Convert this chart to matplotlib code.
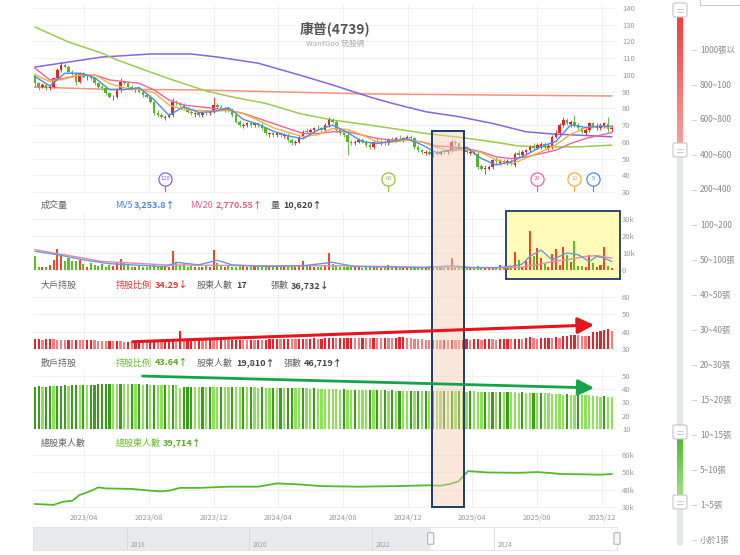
import numpy as np
import pandas as pd
import matplotlib
matplotlib.use('Agg')
import matplotlib.pyplot as plt
import matplotlib.transforms as mtransforms
from matplotlib.patches import Rectangle, FancyBboxPatch, FancyArrowPatch
from matplotlib.colors import LinearSegmentedColormap

plt.rcParams['font.family'] = ['Noto Sans CJK TC', 'DejaVu Sans']

W, H = 740, 555

# weekly candles, first week ends 2022-12-30
start = pd.Timestamp('2022-12-30')

open_ = [100, 95, 93, 94, 92, 93, 98, 103, 106, 105,
         102, 101, 96, 101, 98.5, 99, 98, 95, 93, 92,
         89, 86.5, 87, 91, 96, 95, 93, 91.5, 92, 90,
         88, 87, 84, 77, 76, 74.5, 75, 76, 84, 83,
         82, 80, 78, 76.5, 77, 76, 77.5, 77, 78, 82,
         81, 79.5, 80, 79, 76, 72, 69.5, 70, 71, 70,
         71, 70, 68, 64.5, 65, 64, 65, 63.5, 64, 61,
         59, 60, 63, 66.5, 66, 67, 68.5, 68, 67, 70,
         73, 72, 67, 65, 64, 60, 59, 60, 61, 60,
         58, 57, 60.5, 59.5, 60, 59, 61.5, 61, 62.5, 61.5,
         62, 63, 62, 57, 55, 53.5, 54, 52.5, 53.5, 53,
         54.5, 54, 55, 60, 59, 56, 55, 53.5, 54, 53,
         45.5, 43.5, 44, 45, 49.5, 47.5, 48.5, 47.5, 48.5, 46,
         53.5, 52, 54, 55, 57.5, 56.5, 57.5, 58.5, 56.5, 57,
         63, 65, 70, 73, 70.5, 72, 70, 68, 65.5, 67,
         71, 68.5, 68.5, 69, 70.5, 67.5]
close = [95, 93, 94, 92, 93, 98, 103, 106, 105, 102,
         101, 96, 101, 99, 99, 98, 95, 93, 92, 89,
         87, 87, 91, 96, 95, 93, 92, 92, 90, 88,
         87, 84, 77, 76, 75, 75, 76, 84, 83, 82,
         80, 78, 77, 77, 76, 77, 77, 78, 82, 81,
         80, 80, 79, 76, 72, 70, 70, 71, 70, 71,
         70, 68, 65, 65, 64, 65, 64, 64, 61, 59,
         60, 63, 66, 66, 67, 68, 68, 67, 70, 73,
         72, 67, 65, 64, 60, 59, 60, 61, 60, 58,
         57, 60, 60, 60, 59, 61, 61, 62, 62, 62,
         63, 62, 57, 55, 54, 54, 53, 53, 53, 54,
         54, 55, 60, 59, 56, 55, 54, 54, 53, 45,
         44, 44.5, 45, 49, 48.5, 48.5, 48, 48.5, 47, 53,
         52, 54, 55, 57, 56.5, 58, 58.5, 57, 57.5, 63,
         65, 70, 73, 71, 72, 70, 68, 66, 67, 71,
         69, 69.5, 70, 71, 67.5, 68.5]
high = [101, 96, 95, 95, 94, 99, 104, 108, 107, 106,
        103, 102, 102, 102, 100, 100, 99, 96, 94, 93,
        90, 88, 92, 98, 97, 96, 94, 93, 93, 91,
        89, 88, 85, 79, 77, 76, 77, 86, 85, 84,
        83, 81, 79, 78, 78, 78, 79, 79, 87, 83,
        82, 81, 81, 80, 77, 73, 71, 72, 72, 72,
        72, 71, 69, 66, 66, 66, 66, 65, 65, 62,
        61, 64, 67, 68, 68, 69, 70, 69, 71, 75,
        74, 73, 68, 66, 65, 61, 61, 62, 62, 61,
        59, 61, 62, 61, 61, 62, 63, 63, 64, 63,
        64, 64, 63, 58, 56, 55, 55, 54, 55, 55,
        56, 56, 61, 61, 60, 57, 56, 55, 55, 54,
        47, 46, 46, 50, 51, 50, 50, 50, 50, 54,
        55, 55, 56, 58, 59, 59, 60, 60, 59, 64,
        67, 71, 75, 74, 73, 76, 71, 69, 68, 72,
        72, 71, 71, 72, 75, 70]
low = [93, 91, 92, 91, 91, 92, 97, 102, 104, 101,
       100, 94, 95, 98, 97, 97, 94, 92, 91, 88,
       86, 85, 86, 90, 94, 92, 91, 90, 89, 87,
       86, 83, 76, 75, 74, 73, 74, 75, 82, 81,
       79, 77, 76, 75, 75, 75, 76, 76, 77, 80,
       79, 78, 78, 75, 71, 69, 68, 69, 69, 69,
       69, 67, 64, 63, 63, 63, 63, 62, 60, 58,
       58, 59, 62, 65, 65, 66, 67, 66, 66, 69,
       71, 66, 64, 63, 52, 58, 58, 59, 59, 57,
       56, 56, 59, 58, 58, 58, 60, 60, 61, 60,
       61, 61, 56, 54, 53, 52, 52, 51, 52, 52,
       53, 53, 54, 58, 55, 54, 53, 52, 52, 44,
       43, 41, 43, 44, 47, 46, 47, 46, 46, 45,
       51, 51, 53, 54, 56, 56, 56, 56, 55, 56,
       62, 64, 69, 70, 69, 69, 67, 65, 64, 66,
       68, 67, 67, 68, 66, 66]

# moving averages of price, sampled every 4 weeks
ma_idx = list(range(0, 153, 4)) + [155]
ma5 = [99, 93.4, 101, 101, 98.4, 91.2, 91.2, 92.4, 85.2, 75.8, 81, 77.6, 78, 80.4, 73.4, 70.4,
       66.4, 63.6, 61.8, 67, 70, 65.6, 60, 59, 60.2, 62, 58.2, 53.4, 55.2, 56.8, 50, 46.2,
       48.1, 52.2, 57, 60.2, 70.2, 68.6, 69.3, 69.3]
ma10 = [100, 96, 97.6, 99.7, 100.2, 94.9, 92.3, 91.2, 89.4, 82, 79.2, 78.8, 78.4, 78.7, 76.8, 72.9,
        68.4, 65.7, 63.1, 64.2, 68, 67.4, 64.1, 59.9, 59.7, 61, 59.9, 56.6, 54.5, 55.3, 53.5, 49.2,
        46.8, 50.3, 54, 58.2, 64.5, 68.5, 69.4, 68.8]
ma20 = [104, 97, 98, 100, 100, 97, 96, 95, 91, 85, 82, 81, 80, 79, 77, 74,
        71, 68, 65, 65, 66, 66, 64, 62, 61, 61, 60, 57.5, 57, 56, 54, 51,
        50, 51, 53, 55, 59, 62, 64, 65.5]
ma60_idx = [0, 9, 18, 22, 31, 37, 46, 53, 62, 71, 80, 90, 96, 105, 114, 123, 130, 136, 146, 155]
ma60 = [128.6, 119.7, 113, 109, 101.7, 97, 90.4, 86.8, 83, 77, 73, 70, 68, 65, 62.7, 60, 57.5, 57, 57, 58]
ma120_idx = [0, 9, 18, 31, 42, 49, 60, 71, 80, 90, 96, 105, 114, 123, 132, 139, 146, 155]
ma120 = [104.7, 107.7, 110.7, 112.5, 112.5, 110.7, 107, 100, 94, 86.8, 83, 78, 75, 71, 66, 64.7, 64, 63]
ma240_idx = [0, 18, 44, 90, 155]
ma240 = [92.7, 91.5, 91, 88.6, 87.4]

flag_idx = [35, 95, 135, 145, 150]
flag_txt = ['120', '60', '20', '10', '5']
flag_col = ['#8a63e0', '#8cc63e', '#e8679a', '#f5b041', '#4a8fe2']

# volume (k)
volume = [8.5, 2, 1.5, 1.5, 3, 6, 12.5, 9, 5, 7,
          5.5, 5, 6, 3.5, 2, 4, 3, 2.5, 3.5, 2,
          3, 2.5, 4, 6.5, 4, 3, 2, 2, 2.5, 2,
          2, 2.5, 3.5, 2.5, 2, 2, 2, 11, 4, 3,
          3.5, 2, 2.5, 2, 2, 2, 2.5, 2, 12, 4,
          3, 2, 2.5, 2, 2, 2.5, 3, 2, 2, 2.5,
          2, 2, 2, 2, 1.5, 2, 2, 2, 1.5, 2,
          1.5, 3, 5.5, 3, 2.5, 2, 2, 2, 3, 10,
          3.5, 2.5, 2, 1.5, 2, 1.5, 1.5, 1.5, 1, 1.5,
          1.5, 2, 1.5, 1, 1.5, 3, 1.5, 1.5, 1, 1.5,
          1, 2, 1.5, 1.5, 1, 1, 1, 1.5, 1, 1,
          1, 1.5, 7, 1.5, 1, 1, 1, 1, 1, 2.5,
          1.5, 1, 1, 1.5, 1, 3, 1, 1, 1.5, 10.5,
          6, 1.8, 5, 23, 8.4, 13, 7, 3.7, 1.6, 9.6,
          12.3, 3, 13.8, 9, 4.5, 17, 2.5, 2.1, 1.8, 9,
          4, 1.8, 3, 13.3, 2.5, 1.2]
vma5_idx = [0, 6, 13, 20, 26, 35, 38, 44, 49, 53, 62, 72, 80, 86, 96, 104, 112, 118, 125,
            129, 131, 133, 136, 139, 141, 143, 146, 149, 151, 153, 155]
vma5 = [11, 9, 6, 3.7, 3, 2, 4.5, 3, 5.7, 3, 2, 2.5, 4.5, 2, 1.8, 1.3, 2.5, 1.3, 1.5,
        2.5, 3.5, 8, 11.7, 6, 8, 10, 9, 5, 8, 7, 5]
vma20_idx = [0, 5, 13, 18, 35, 60, 80, 100, 125, 130, 135, 139, 143, 148, 151, 155]
vma20 = [12, 10, 7, 5, 3, 2.5, 2.5, 1.8, 1.3, 1.5, 3, 5, 6, 8, 8.4, 7]

# 大戶 / 散戶 holding ratio (%)
big = [35.5, 35.6, 35.4, 35.5, 35.6, 35.5, 35.3, 35.2, 35.0, 35.1,
       35.0, 35.2, 35.0, 34.9, 35.0, 35.1, 35.0, 34.8, 34.6, 34.5,
       34.5, 34.4, 34.6, 34.5, 34.3, 34.3, 34.2, 34.3, 34.4, 34.3,
       34.2, 34.3, 34.4, 34.3, 34.2, 34.3, 34.4, 34.5, 34.3, 40.5,
       34.8, 35.0, 35.1, 35.0, 35.2, 35.1, 35.0, 35.2, 35.1, 35.0,
       35.2, 35.1, 35.0, 35.1, 35.2, 35.3, 35.1, 35.0, 35.2, 35.1,
       35.3, 35.2, 35.4, 35.6, 35.8, 35.9, 35.7, 35.8, 36.0, 35.9,
       35.8, 35.9, 36.0, 35.8, 35.9, 36.1, 35.9, 36.0, 36.1, 36.2,
       36.3, 36.1, 36.2, 36.4, 36.5, 36.6, 36.5, 36.4, 36.6, 36.5,
       36.3, 36.4, 36.3, 36.2, 36.5, 36.4, 36.3, 36.6, 36.7, 36.9,
       36.6, 36.3, 36.0, 35.7, 35.5, 35.4, 35.3, 35.4, 35.3, 35.2,
       35.4, 35.3, 35.4, 35.3, 35.2, 35.4, 35.5, 35.4, 35.5, 35.6,
       35.4, 35.5, 35.6, 35.5, 35.4, 35.6, 35.7, 35.8, 35.7, 35.9,
       36.0, 35.9, 36.1, 37.0, 36.2, 36.0, 36.3, 36.4, 36.6, 36.5,
       36.7, 36.6, 37.2, 37.6, 37.8, 37.9, 37.8, 37.6, 37.4, 37.5,
       39.6, 39.9, 40.1, 40.7, 41.3, 40.4]
retail = [42.0, 42.1, 41.9, 42.0, 42.2, 42.1, 42.3, 42.6, 42.8, 42.7,
          42.9, 43.0, 42.8, 43.1, 43.0, 43.2, 43.4, 43.6, 43.8, 43.9,
          44.0, 43.9, 43.8, 43.9, 43.8, 43.7, 43.8, 43.6, 43.7, 43.5,
          43.6, 43.4, 43.5, 43.4, 43.3, 43.4, 43.2, 43.3, 43.1, 41.2,
          41.4, 41.5, 41.6, 41.5, 41.4, 41.6, 41.5, 41.7, 41.6, 41.5,
          41.6, 41.5, 41.4, 41.6, 41.5, 41.4, 41.5, 41.3, 41.4, 41.3,
          41.2, 41.3, 41.1, 41.0, 41.1, 40.9, 41.0, 40.8, 40.9, 41.0,
          40.8, 40.7, 40.8, 40.6, 40.5, 40.6, 40.4, 40.3, 40.2, 40.1,
          39.9, 39.8, 39.7, 39.8, 39.6, 39.5, 39.6, 39.5, 39.4, 39.3,
          39.4, 39.2, 39.3, 39.1, 39.2, 39.0, 39.1, 38.9, 39.0, 38.9,
          38.8, 38.9, 38.7, 38.8, 38.7, 38.8, 38.6, 38.7, 38.6, 38.5,
          38.6, 38.4, 38.5, 38.3, 38.4, 38.3, 38.2, 38.4, 38.3, 38.2,
          38.1, 38.2, 38.0, 38.1, 37.9, 38.0, 37.8, 37.9, 37.7, 37.6,
          37.5, 37.6, 37.4, 37.3, 37.4, 37.2, 37.3, 37.1, 36.9, 36.6,
          36.4, 36.2, 36.0, 36.1, 35.9, 35.8, 36.0, 35.7, 35.5, 35.3,
          35.0, 34.6, 34.4, 34.6, 34.2, 34.0]

# 總股東人數 (k)
th_idx = [0, 5, 7.5, 10, 12, 14, 15.6, 17, 19, 26, 31, 33.6, 36, 39, 44, 50, 52, 60, 65, 71,
          77, 87, 97, 106, 109, 111.5, 113.7, 116.4, 121.5, 130, 135, 139, 141, 148, 152, 155]
th = [31.7, 31.2, 33, 33.6, 36.9, 38.4, 39.8, 41.3, 40.7, 40.4, 39.4, 39, 39.4, 41, 41, 41.5, 41.7,
      41.7, 43.6, 43, 42, 41.7, 42, 42.5, 42.3, 43.2, 44.6, 50.7, 49.9, 49.7, 50.1, 49.5, 49,
      48.8, 48.6, 49]

month_ticks = ['2023-04-01', '2023-08-01', '2023-12-01', '2024-04-01', '2024-08-01',
               '2024-12-01', '2025-04-01', '2025-08-01', '2025-12-01']
month_labels = [m[:7].replace('-', '/') for m in month_ticks]
hl_range = ['2025-01-15', '2025-03-16']
zoom_range = ['2025-06-04', '2026-01-03']

nav_years = [2018, 2020, 2022, 2024]
nav_sel = [2022.96, 2026.0]
nav_lim = [2016.47, 2026.0]

# labels of the right slider, as far as they show inside the picture
slider_labels = ['1000張以', '800~100', '600~800', '400~600', '200~400', '100~200',
                 '50~100張', '40~50張', '30~40張', '20~30張', '15~20張', '10~15張', '5~10張',
                 '1~5張', '小於1張']

RED = '#dc262c'
GREEN = '#55b42c'


def week_pos(d):
    return (pd.Timestamp(d) - start).days / 7


tick_x = [week_pos(m) for m in month_ticks]
x = np.arange(len(close))
XLIM = (-0.54, 155.9)

fig = plt.figure(figsize=(W / 100, H / 100), dpi=100)


def axes_px(l, t, r, b):
    return fig.add_axes([l / W, 1 - b / H, (r - l) / W, (b - t) / H])


def text_px(px, py, s, **kw):
    kw.setdefault('va', 'center')
    kw.setdefault('fontsize', 6.5)
    fig.text(px / W, 1 - py / H, s, **kw)


def style(ax, yt, yl, ylim):
    ax.set_xlim(*XLIM)
    ax.set_ylim(*ylim)
    for s in ax.spines.values():
        s.set_visible(False)
    ax.set_yticks(yt)
    ax.set_yticklabels(yl)
    ax.yaxis.tick_right()
    ax.tick_params(axis='y', length=0, pad=5, labelsize=5.5, labelcolor='#999999')
    ax.set_xticks(tick_x)
    ax.set_xticklabels(month_labels)
    ax.tick_params(axis='x', length=0, labelbottom=False, labelsize=5.5, labelcolor='#999999', pad=4)
    ax.grid(True, color='#efefef', lw=0.6)
    ax.set_axisbelow(True)


# ---- price panel
ax_p = axes_px(33, 5, 615, 193)
style(ax_p, range(30, 141, 10), [str(v) for v in range(30, 141, 10)], (29.4, 141.8))
o = np.array(open_)
c = np.array(close)
col = np.where(c >= o, RED, GREEN)
ax_p.vlines(x, low, high, colors=col, lw=0.6, zorder=3)
ax_p.bar(x, np.maximum(np.abs(c - o), 0.4), bottom=np.minimum(o, c), width=0.68, color=col, zorder=3)
ax_p.plot(ma240_idx, ma240, color='#f2927c', lw=1.1, zorder=2)
ax_p.plot(ma120_idx, ma120, color='#8a63e0', lw=1.1, zorder=2)
ax_p.plot(ma60_idx, ma60, color='#9acd4a', lw=1.1, zorder=2)
ax_p.plot(ma_idx, ma20, color='#e8679a', lw=1.0, zorder=4)
ax_p.plot(ma_idx, ma10, color='#f5b041', lw=1.0, zorder=4)
ax_p.plot(ma_idx, ma5, color='#4a8fe2', lw=1.0, zorder=4)

tr_flag = mtransforms.blended_transform_factory(ax_p.transData, ax_p.transAxes)
for fx, ft, fc in zip(flag_idx, flag_txt, flag_col):
    ax_p.plot([fx, fx], [0.012, 0.06], color=fc, lw=0.8, transform=tr_flag, zorder=5)
    ax_p.plot(fx, 0.075, marker='o', ms=9.5, mfc='white', mec=fc, mew=0.9,
              transform=tr_flag, zorder=6, clip_on=False)
    ax_p.text(fx, 0.075, ft, color=fc, fontsize=4.2, ha='center', va='center',
              transform=tr_flag, zorder=7)

text_px(335, 30, '康普(4739)', ha='center', fontsize=10, fontweight='bold', color='#555555')
text_px(335, 44, 'WantGoo 玩股網', ha='center', fontsize=5.5, color='#aaaaaa')

# ---- volume panel
ax_v = axes_px(33, 212, 615, 271)
style(ax_v, [0, 10, 20, 30], ['0', '10k', '20k', '30k'], (-0.6, 34.1))
vcol = np.where(c >= o, '#ea4a2c', '#5cc01e')
ax_v.bar(x, volume, width=0.55, color=vcol, zorder=3)
ax_v.plot(vma20_idx, vma20, color='#e88aa8', lw=1.0, zorder=4)
ax_v.plot(vma5_idx, vma5, color='#6a9ad8', lw=1.0, zorder=4)
tr_v = mtransforms.blended_transform_factory(ax_v.transData, fig.transFigure)
z0, z1 = week_pos(zoom_range[0]), week_pos(zoom_range[1])
ax_v.add_patch(Rectangle((z0, 1 - 279 / H), z1 - z0, 68 / H, transform=tr_v, fc='#fffbb8',
                         ec='#1f3a6b', lw=1.3, clip_on=False, zorder=1))

# ---- big holders panel
ax_b = axes_px(33, 290, 615, 350)
style(ax_b, [30, 40, 50, 60], ['30', '40', '50', '60'], (29.4, 64))
b = np.array(big)
bcol = np.where(np.diff(b, prepend=b[0]) >= 0, '#e3262e', '#f27e80')
ax_b.bar(x, b - 30, bottom=30, width=0.6, color=bcol, zorder=3)

# ---- retail panel
ax_r = axes_px(33, 370, 615, 430)
style(ax_r, [10, 20, 30, 40, 50], ['10', '20', '30', '40', '50'], (9.2, 54.5))
r = np.array(retail)
rcol = np.where(np.diff(r, prepend=r[0]) >= 0, '#3a9e1c', '#8fe05a')
ax_r.bar(x, r - 10, bottom=10, width=0.6, color=rcol, zorder=3)

# ---- total holders panel
ax_t = axes_px(33, 448, 615, 508)
style(ax_t, [30, 40, 50, 60], ['30k', '40k', '50k', '60k'], (29.4, 64))
ax_t.tick_params(axis='x', labelbottom=True)
ax_t.plot(th_idx, th, color='#55b92c', lw=1.3, zorder=3)

# ---- section labels
rows = [
    (205, [(41, '成交量', '#666666', 'normal'), (115, 'MV5', '#4a86e8', 'normal'),
           (134, '3,253.8↑', '#4a86e8', 'bold'), (190, 'MV20', '#e0608a', 'normal'),
           (216, '2,770.55↑', '#e0608a', 'bold'), (271, '量', '#555555', 'normal'),
           (283, '10,620↑', '#444444', 'bold')]),
    (285, [(41, '大戶持股', '#666666', 'normal'), (116, '持股比例', '#e53935', 'normal'),
           (155, '34.29↓', '#e53935', 'bold'), (197, '股東人數', '#666666', 'normal'),
           (236, '17', '#444444', 'bold'), (270, '張數', '#666666', 'normal'),
           (291, '36,732↓', '#444444', 'bold')]),
    (363, [(41, '散戶持股', '#666666', 'normal'), (116, '持股比例', '#6abf2a', 'normal'),
           (155, '43.64↑', '#55aa1e', 'bold'), (197, '股東人數', '#666666', 'normal'),
           (236, '19,810↑', '#444444', 'bold'), (283, '張數', '#666666', 'normal'),
           (304, '46,719↑', '#444444', 'bold')]),
    (443, [(41, '總股東人數', '#666666', 'normal'), (116, '總股東人數', '#6abf2a', 'normal'),
           (163, '39,714↑', '#55aa1e', 'bold')]),
]
for ry, items in rows:
    for rx, s, cc, fw in items:
        text_px(rx, ry, s, color=cc, fontweight=fw)

# ---- highlight box across panels
tr_hl = mtransforms.blended_transform_factory(ax_p.transData, fig.transFigure)
h0, h1 = week_pos(hl_range[0]), week_pos(hl_range[1])
fig.add_artist(Rectangle((h0, 1 - 507 / H), h1 - h0, 376 / H, transform=tr_hl,
                         fc='#f6cdb5', alpha=0.45, ec='none', zorder=2))
fig.add_artist(Rectangle((h0, 1 - 507 / H), h1 - h0, 376 / H, transform=tr_hl,
                         fc='none', ec='#1f3a6b', lw=1.4, zorder=2.1))

# ---- trend arrows
fig.add_artist(FancyArrowPatch((25.5, 34.1), (151, 43.9), transform=ax_b.transData,
                               arrowstyle='-|>,head_length=0.7,head_width=0.35', mutation_scale=14,
                               color='#e8141c', lw=2.2, zorder=3))
fig.add_artist(FancyArrowPatch((28.2, 50.0), (151, 40.9), transform=ax_r.transData,
                               arrowstyle='-|>,head_length=0.7,head_width=0.35', mutation_scale=14,
                               color='#16a44a', lw=2.0, zorder=3))

# ---- navigator
ax_n = axes_px(33, 527, 617, 550)
ax_n.set_xlim(*nav_lim)
ax_n.set_ylim(0, 1)
ax_n.axvspan(nav_lim[0], nav_sel[0], color='#e9eaed', lw=0)
ax_n.axvspan(nav_sel[0], nav_sel[1], color='white', lw=0)
for yv in nav_years:
    ax_n.axvline(yv, color='#d8d8d8', lw=0.6)
    ax_n.text(yv + 0.06, 0.22, str(yv), fontsize=4.8, color='#a0a0a0', va='center')
for s in ax_n.spines.values():
    s.set_color('#e2e2e2')
    s.set_linewidth(0.6)
ax_n.set_xticks([])
ax_n.set_yticks([])
for hx in nav_sel:
    ax_n.add_patch(FancyBboxPatch((hx - 0.05, 0.25), 0.1, 0.5, boxstyle='round,pad=0,rounding_size=0.02',
                                  fc='#f6f6f6', ec='#aaaaaa', lw=0.7, clip_on=False, zorder=5))

# ---- right side range slider
ax_o = fig.add_axes([0, 0, 1, 1])
ax_o.patch.set_alpha(0)
ax_o.add_patch(FancyBboxPatch((677, 8), 6, 538, boxstyle='round,pad=0,rounding_size=3',
                              fc='#e6e7e9', ec='none'))
red_cm = LinearSegmentedColormap.from_list('r', ['#f23a3a', '#f6a3a3'])
grn_cm = LinearSegmentedColormap.from_list('g', ['#4cbb2c', '#a8e28c'])
grad = np.linspace(0, 1, 64).reshape(-1, 1)
ax_o.imshow(grad, cmap=red_cm, extent=(677, 683, 148, 12), origin='upper', aspect='auto', zorder=2)
ax_o.imshow(grad, cmap=grn_cm, extent=(677, 683, 500, 435), origin='upper', aspect='auto', zorder=2)
for k, s in enumerate(slider_labels):
    ly = 50 + 35 * k
    ax_o.plot([692, 696], [ly, ly], color='#c8c8c8', lw=0.6)
    ax_o.text(700, ly, s, fontsize=6.0, color='#8a8a8a', va='center', ha='left')
for hy in [10, 150, 432, 502]:
    ax_o.add_patch(FancyBboxPatch((673, hy - 7), 14, 14, boxstyle='round,pad=0,rounding_size=2',
                                  fc='white', ec='#c4c4c4', lw=0.8, zorder=4))
    ax_o.plot([677, 683], [hy - 1.5, hy - 1.5], color='#c4c4c4', lw=0.6, zorder=5)
    ax_o.plot([677, 683], [hy + 1.5, hy + 1.5], color='#c4c4c4', lw=0.6, zorder=5)
ax_o.add_patch(Rectangle((700, -2), 40, 7, fc='white', ec='#cccccc', lw=0.8))
ax_o.set_xlim(0, W)
ax_o.set_ylim(H, 0)
ax_o.axis('off')

fig.savefig('out.png', dpi=100)
